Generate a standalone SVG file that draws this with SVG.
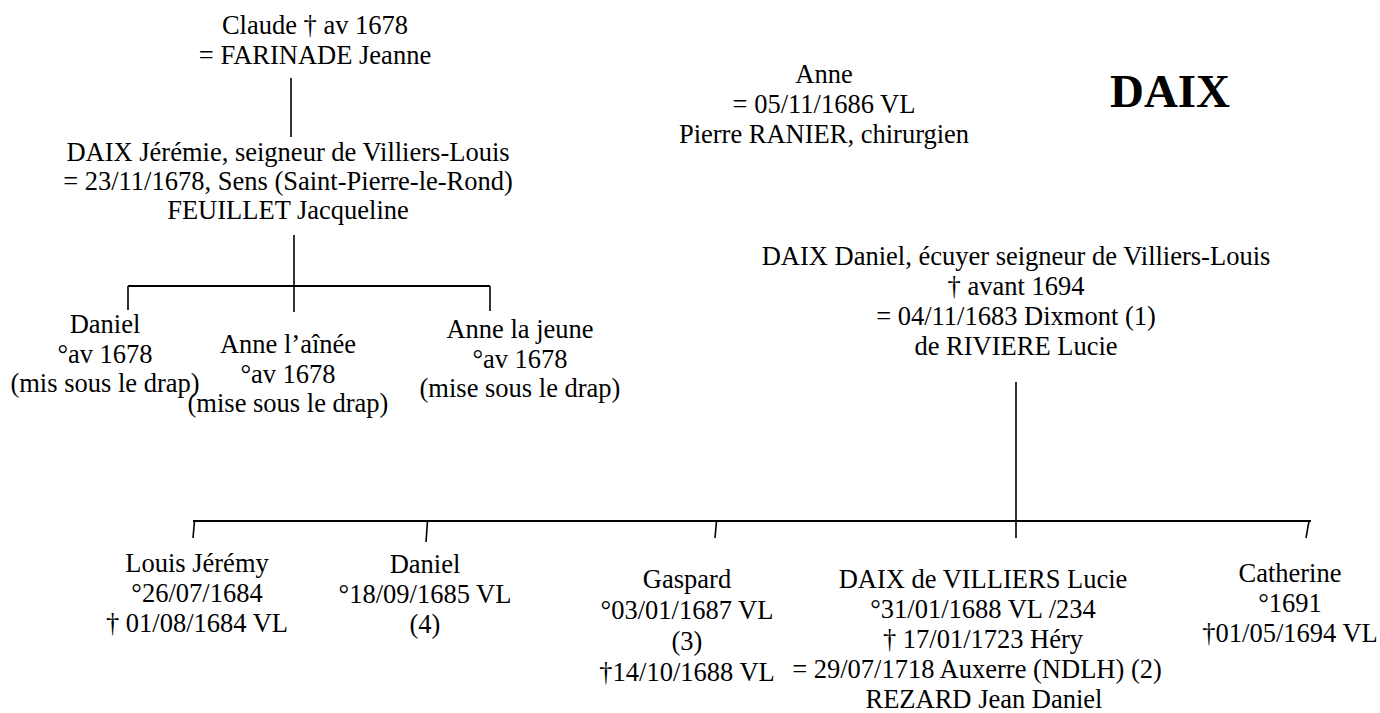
<svg xmlns="http://www.w3.org/2000/svg" width="1380" height="713" viewBox="0 0 1380 713">
<style>
text{font-family:"Liberation Serif","Times New Roman",serif;font-size:26.5px;fill:#000;text-anchor:middle}
.title{font-size:47px;font-weight:bold}
.ln{stroke:#000;stroke-width:1.6;fill:none}
.hl{stroke:#000;stroke-width:2.2;fill:none}
</style>
<rect width="1380" height="713" fill="#fff"/>
<g id="connectors">
<path class="ln" d="M291 78V137"/>
<path class="ln" d="M294 235V312"/>
<path class="hl" d="M128 286H490"/>
<path class="ln" d="M128 286V310M490 286V311"/>
<path class="ln" d="M1016 382V538"/>
<path class="hl" d="M193 521H1311"/>
<path class="ln" d="M194.5 521L193 538M427.5 521L426 542M716.5 521L715 538M1309 521L1306 538"/>
</g>
<g id="title"><text class="title" x="1170" y="107">DAIX</text></g>
<g id="claude"><text x="315" y="34">Claude † av 1678</text><text x="315" y="64">= FARINADE Jeanne</text></g>
<g id="jeremie"><text x="288" y="161">DAIX Jérémie, seigneur de Villiers-Louis</text><text x="288" y="190">= 23/11/1678, Sens (Saint-Pierre-le-Rond)</text><text x="288" y="219">FEUILLET Jacqueline</text></g>
<g id="daniel1"><text x="105" y="333">Daniel</text><text x="105" y="363">°av 1678</text><text x="105" y="392">(mis sous le drap)</text></g>
<g id="anne-ainee"><text x="288" y="353">Anne l’aînée</text><text x="288" y="383">°av 1678</text><text x="288" y="412">(mise sous le drap)</text></g>
<g id="anne-jeune"><text x="520" y="338">Anne la jeune</text><text x="520" y="368">°av 1678</text><text x="520" y="397">(mise sous le drap)</text></g>
<g id="anne"><text x="824" y="83">Anne</text><text x="824" y="113">= 05/11/1686 VL</text><text x="824" y="143">Pierre RANIER, chirurgien</text></g>
<g id="daniel-pere"><text x="1016" y="265">DAIX Daniel, écuyer seigneur de Villiers-Louis</text><text x="1016" y="295">† avant 1694</text><text x="1016" y="325">= 04/11/1683 Dixmont (1)</text><text x="1016" y="355">de RIVIERE Lucie</text></g>
<g id="louis"><text x="197" y="572">Louis Jérémy</text><text x="197" y="602">°26/07/1684</text><text x="197" y="632">† 01/08/1684 VL</text></g>
<g id="daniel2"><text x="425" y="573">Daniel</text><text x="425" y="603">°18/09/1685 VL</text><text x="425" y="633">(4)</text></g>
<g id="gaspard"><text x="687" y="588">Gaspard</text><text x="687" y="619">°03/01/1687 VL</text><text x="687" y="650">(3)</text><text x="687" y="681">†14/10/1688 VL</text></g>
<g id="lucie"><text x="983" y="588">DAIX de VILLIERS Lucie</text><text x="983" y="618">°31/01/1688 VL /234</text><text x="983" y="648">† 17/01/1723 Héry</text><text x="977" y="678">= 29/07/1718 Auxerre (NDLH) (2)</text><text x="984" y="708">REZARD Jean Daniel</text></g>
<g id="catherine"><text x="1290" y="582">Catherine</text><text x="1290" y="612">°1691</text><text x="1290" y="642">†01/05/1694 VL</text></g>
</svg>
